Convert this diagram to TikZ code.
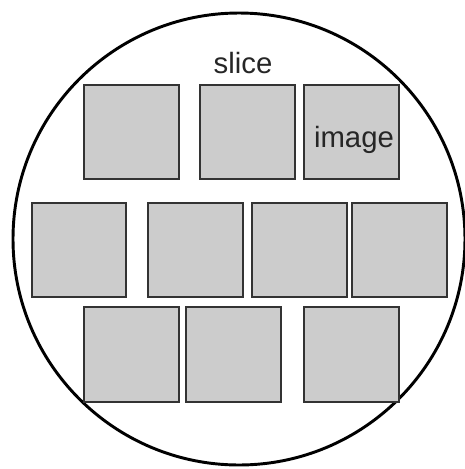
\documentclass[tikz,border=0pt]{standalone}
\usepackage{fontspec}
\setmainfont{Liberation Sans}
\begin{document}
\begin{tikzpicture}[x=0.75pt,y=-0.75pt,
  tile/.style={draw=black!80,fill=black!20,line width=1.5pt,minimum width=71pt,minimum height=71pt,inner sep=0pt},
  lbl/.style={font=\fontsize{22pt}{24pt}\selectfont,text=black!85,inner sep=0pt,anchor=base}]
\useasboundingbox (0,0) rectangle (465,469);
\node[draw=black,line width=2.2pt,circle,minimum size=339pt,inner sep=0pt] (wafer) at (239,239) {};
% row 1
\node[tile] (a1) at (131.5,132) {};
\node[tile] (a2) at (247.5,132) {};
\node[tile] (a3) at (351.5,132) {};
% row 2
\node[tile] (b1) at (79,250) {};
\node[tile] (b2) at (195.5,250) {};
\node[tile] (b3) at (299.5,250) {};
\node[tile] (b4) at (399.5,250) {};
% row 3
\node[tile] (c1) at (131.5,354.5) {};
\node[tile] (c2) at (233.5,354.5) {};
\node[tile] (c3) at (351.5,354.5) {};
\node[lbl] (slice) at (243,73) {slice};
\node[lbl] (image) at (354,147) {image};
\end{tikzpicture}
\end{document}
